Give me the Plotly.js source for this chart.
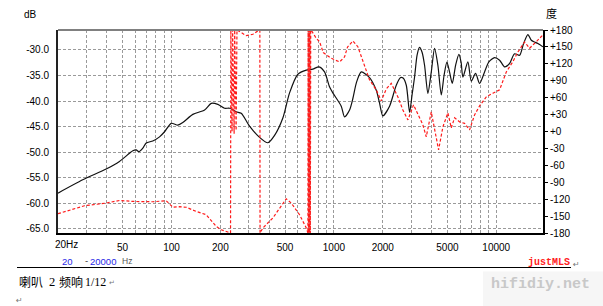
<!DOCTYPE html>
<html>
<head>
<meta charset="utf-8">
<script src="https://cdn.plot.ly/plotly-3.0.1.min.js"></script>
<style>
html,body{margin:0;padding:0;background:#fff;}
#chart{width:603px;height:306px;}
</style>
</head>
<body>
<div id="chart"></div>
<script>
// ---- data ----
const magFreq = [20,28.4,39.6,47.8,55.1,57.8,60.6,62.9,66.6,69.9,76.7,84.4,90.6,99.6,109.4,117.4,135.3,159.8,175.7,192.9,212.2,227.8,250.5,268.8,302.4,348.5,392.2,431.2,485,533.4,600,676,742,810,876,940,985,1110,1163,1249,1309,1379,1475,1658,1824,1911,2003,2202,2422,2576,2668,2792,2926,3030,3140,3254,3370,3492,3618,3791,3978,4169,4370,4585,4773,4966,5159,5360,5617,5885,6073,6230,6688,7017,7458,7894,8472,9006,9766,10484,11252,12078,12966,13918,14730,15658,16434,17220,18044,19370];
const magDb = [-58.0,-55.4,-53.3,-51.8,-50.2,-49.7,-49.55,-49.9,-49.2,-48.2,-47.8,-47.0,-46.0,-44.35,-44.7,-44.2,-42.6,-41.75,-40.45,-40.65,-41.4,-41.4,-42.1,-42.4,-44.9,-47.1,-48.15,-46.7,-43.3,-38.4,-34.75,-33.95,-33.75,-33.3,-34.3,-37.2,-38.4,-41.0,-43.1,-41.75,-39.5,-36.3,-34.3,-35.4,-37.9,-40.4,-42.9,-41.0,-36.9,-35.4,-35.5,-36.9,-42.2,-38.8,-35.3,-31.0,-29.5,-30.45,-33.0,-38.5,-34.35,-29.7,-33.0,-38.8,-34.9,-32.4,-34.35,-36.55,-33.0,-30.85,-32.4,-35.3,-32.35,-36.1,-34.6,-36.55,-34.3,-32.35,-31.5,-32.0,-33.3,-32.65,-30.75,-31.05,-28.75,-27.0,-28.1,-28.45,-28.75,-29.4];

const phaseFreq = [20,29.1,39.6,47.8,57.8,76.7,92.8,101.9,112.1,123.2,142,163.6,188.6,202.4,231,232,236,238,243,245,250,253,288.6,317,338.6,350,351,365.2,420.8,462.6,508.9,546.4,614.6,676,692,694,698,702,707,711,716,720,724,778.8,816,860,963,1084,1163,1214,1309,1405,1508,1658,1824,1958,2102,2256,2478,2660,2856,3094,3532,3706,3978,4272,4414,4692,5036,5284,5536,5944,6380,6850,7354,7894,8680,9534,10484,11528,12656,13590,14944,16042,17644,19370];
const phaseDeg = [-145.8,-131.7,-126.9,-122.3,-124,-124.6,-122.8,-134.3,-133.4,-134.3,-141.8,-147.6,-168.3,-174.2,-180,180,0,180,-4,180,2,180,170,172.4,178,180,-180,-171.1,-153.4,-135.7,-119.3,-126.9,-147.6,-171.1,-180,180,-180,180,-180,180,-180,180,180,165.3,159.3,140,129.9,123.3,132.2,149.9,160.5,150.4,123.9,91.5,73.75,54.3,75.5,85.3,61.4,38.3,20.6,47.2,11.8,-9.5,34.8,-9.5,-32.5,8.2,33.0,6.5,24.2,17.1,14.4,2.9,29.5,45.4,61.4,67.9,73.75,105.6,123.9,141,158.75,147.6,159.3,171.1];

// ---- tick labels ----
const freqGrid = [30,40,50,60,70,80,90,100,200,300,400,500,600,700,800,900,1000,2000,3000,4000,5000,6000,7000,8000,9000,10000];
const freqLabels = ['','','50','','','','','100','200','','','500','','','','','1000','2000','','','5000','','','','','10000'];
const dbTicks = [-65,-60,-55,-50,-45,-40,-35,-30];
const dbLabels = ['-65.0','-60.0','-55.0','-50.0','-45.0','-40.0','-35.0','-30.0'];
const degTicks = [-180,-150,-120,-90,-60,-30,0,30,60,90,120,150,180];
const degLabels = ['-180','-150','-120','-90','-60','-30','+0','+30','+60','+90','+120','+150','+180'];

// ---- layout helpers (pixel -> paper) ----
const L = 58, R = 543, T = 30, B = 233;
const px = x => (x - L) / (R - L);
const py = y => (B - y) / (B - T);
const F = 'Liberation Sans, Arial, sans-serif';

function ann(text, x, y, opts) {
  return Object.assign({
    text: text, xref: 'paper', yref: 'paper', x: px(x), y: py(y),
    showarrow: false, xanchor: 'center', yanchor: 'middle',
    font: {family: F, size: 10, color: '#000'}
  }, opts || {});
}

const traces = [
  {
    x: phaseFreq, y: phaseDeg, yaxis: 'y2', type: 'scatter', mode: 'lines',
    line: {color: '#ff1a1a', width: 1.2, dash: '3px,2px'}, hoverinfo: 'skip'
  },
  {
    x: magFreq, y: magDb, type: 'scatter', mode: 'lines',
    line: {color: '#111', width: 1.2, shape: 'spline', smoothing: 0.7}, hoverinfo: 'skip'
  }
];

const layout = {
  width: 603, height: 306,
  margin: {l: L, r: 603 - R, t: T, b: 306 - B, pad: 0},
  paper_bgcolor: '#fff', plot_bgcolor: '#fff',
  showlegend: false,
  font: {family: F, size: 10, color: '#000'},
  xaxis: {
    type: 'log', range: [Math.log10(20), Math.log10(19400)],
    tickmode: 'array', tickvals: freqGrid, ticktext: freqLabels,
    showgrid: true, gridcolor: '#9a9a9a', gridwidth: 1, griddash: '3px,2px',
    showline: true, linecolor: '#000', linewidth: 2,
    ticks: '', ticklabelstandoff: 4, zeroline: false,
    tickfont: {family: F, size: 10, color: '#000'}
  },
  yaxis: {
    range: [-65.8, -26.1],
    tickmode: 'array', tickvals: dbTicks, ticktext: dbLabels,
    showgrid: true, gridcolor: '#9a9a9a', gridwidth: 1, griddash: '3px,2px',
    showline: true, linecolor: '#222', linewidth: 2,
    ticks: '', ticklabelstandoff: 5, zeroline: false,
    tickfont: {family: F, size: 10, color: '#000'}
  },
  yaxis2: {
    overlaying: 'y', side: 'right', range: [-180, 180],
    tickmode: 'array', tickvals: degTicks, ticktext: degLabels,
    showgrid: false, zeroline: false,
    showline: true, linecolor: '#000', linewidth: 2,
    ticks: 'outside', ticklen: 3, tickwidth: 1, tickcolor: '#000',
    ticklabelstandoff: 0,
    tickfont: {family: F, size: 10, color: '#000'}
  },
  shapes: [
    {type: 'line', xref: 'paper', yref: 'paper', x0: 0, x1: 1, y0: 1, y1: 1,
     line: {color: '#808080', width: 2}},
    {type: 'line', xref: 'paper', yref: 'paper', x0: px(17), x1: px(571), y0: py(267.5), y1: py(267.5),
     line: {color: '#000', width: 1}},
    {type: 'rect', xref: 'paper', yref: 'paper', x0: px(483), x1: px(603), y0: py(271.5), y1: py(306),
     fillcolor: '#f6f6f6', line: {width: 0}, layer: 'below'}
  ],
  annotations: [
    ann('dB', 30, 14),
    ann('度', 551, 13, {font: {family: 'Noto Sans CJK SC, sans-serif', size: 11, color: '#000'}}),
    ann('20Hz', 52.5, 245, {xanchor: 'left'}),
    ann('20', 67.5, 261, {font: {family: F, size: 9.5, color: '#2828e6'}}),
    ann('-', 86, 260.5, {font: {family: F, size: 9.5, color: '#333'}}),
    ann('20000', 88, 261, {xanchor: 'left', font: {family: F, size: 9.5, color: '#2828e6'}}),
    ann('Hz', 119.5, 261, {xanchor: 'left', font: {family: F, size: 8.5, color: '#555'}}),
    ann('justMLS', 571.7, 262.5, {xanchor: 'right', font: {family: 'Liberation Mono, Courier New, monospace', size: 10, color: '#ff2020', weight: 'bold'}}),
    ann('↵', 576, 264, {font: {family: 'DejaVu Sans', size: 8, color: '#777'}}),
    ann('喇叭', 16.5, 281.7, {xanchor: 'left', font: {family: 'Noto Sans CJK SC', size: 12, color: '#000'}}),
    ann('2', 46.5, 281.7, {xanchor: 'left', font: {family: 'Liberation Serif, serif', size: 12.5, color: '#000'}}),
    ann('频响', 56.5, 281.7, {xanchor: 'left', font: {family: 'Noto Sans CJK SC', size: 12, color: '#000'}}),
    ann('1/12', 82.5, 281.7, {xanchor: 'left', font: {family: 'Liberation Serif, serif', size: 12, color: '#000'}}),
    ann('↵', 106.5, 283, {xanchor: 'left', font: {family: 'DejaVu Sans', size: 7, color: '#777'}}),
    ann('↵', 19, 300, {font: {family: 'DejaVu Sans', size: 8, color: '#777'}}),
    ann('hifidiy.net', 540.5, 284.5, {font: {family: 'Liberation Mono, Courier New, monospace', size: 15, color: '#c8c8c8', weight: 'bold'}})
  ]
};

Plotly.newPlot('chart', traces, layout, {staticPlot: true, displayModeBar: false});
</script>
</body>
</html>
